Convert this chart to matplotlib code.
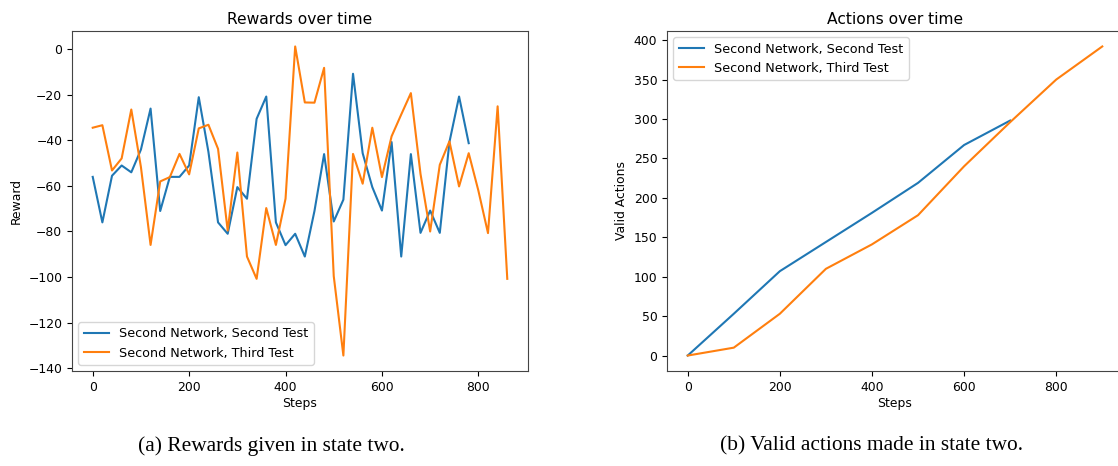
import matplotlib
matplotlib.use("Agg")
import matplotlib.pyplot as plt

# ---- data: rewards (state two) ----
reward_steps_second = list(range(0, 781, 20))
reward_second = [-56, -76, -55.5, -51, -54, -44, -26, -71, -56, -56,
                 -51, -21, -45, -76, -81, -60.5, -65.6, -30.5, -20.7, -76,
                 -86, -81, -91, -71, -46, -75.6, -66, -10.7, -45.6, -60.5,
                 -70.8, -40.7, -91, -46, -80.6, -70.8, -80.6, -40.7, -20.7, -41.2]
reward_steps_third = list(range(0, 861, 20))
reward_third = [-34.4, -33.3, -53.2, -47.9, -26.4, -51.7, -85.9, -58, -56.1, -45.9,
                -54.9, -34.7, -33.1, -43.7, -79.6, -45.3, -91, -100.8, -69.7, -85.9,
                -65.6, 1.3, -23.3, -23.4, -8.1, -99.6, -134.5, -45.9, -59, -34.4,
                -56.1, -38.2, -28.6, -19.2, -54.7, -80, -50.7, -40.4, -60.2, -45.6,
                -62, -80.7, -25, -100.8]

# ---- data: valid actions (state two) ----
action_steps_second = [0, 100, 200, 300, 400, 500, 600, 700]
actions_second = [0, 53, 107, 144, 181, 219, 267, 298]
action_steps_third = [0, 100, 200, 300, 400, 500, 600, 700, 800, 900]
actions_third = [0, 10, 53, 110, 141, 178, 240, 296, 350, 392]

series_labels = ["Second Network, Second Test", "Second Network, Third Test"]
titles = ["Rewards over time", "Actions over time"]
ylabels = ["Reward", "Valid Actions"]
xlabel = "Steps"
captions = ["(a) Rewards given in state two.", "(b) Valid actions made in state two."]

W, H = 1118, 466
fig = plt.figure(figsize=(W / 100, H / 100), dpi=100)

def box(l, t, r, b):
    return [l / W, 1 - b / H, (r - l) / W, (b - t) / H]

fs = 8.9
lfs = 9.2
blue, orange = "#1f77b4", "#ff7f0e"

ax1 = fig.add_axes(box(72, 31, 528, 371))
ax1.plot(reward_steps_second, reward_second, color=blue, lw=1.5, label=series_labels[0])
ax1.plot(reward_steps_third, reward_third, color=orange, lw=1.5, label=series_labels[1])
ax1.set_yticks(range(-140, 1, 20))
ax1.set_xticks([0, 200, 400, 600, 800])
ax1.set_title(titles[0], fontsize=11.2, pad=5)
ax1.set_ylabel(ylabels[0], fontsize=fs)
ax1.set_xlabel(xlabel, fontsize=fs, labelpad=2)
ax1.legend(loc="lower left", fontsize=lfs)

ax2 = fig.add_axes(box(667, 31, 1123, 371))
ax2.plot(action_steps_second, actions_second, color=blue, lw=1.5, label=series_labels[0])
ax2.plot(action_steps_third, actions_third, color=orange, lw=1.5, label=series_labels[1])
ax2.set_yticks(range(0, 401, 50))
ax2.set_xticks([0, 200, 400, 600, 800])
ax2.set_title(titles[1], fontsize=11.2, pad=5)
ax2.set_ylabel(ylabels[1], fontsize=fs)
ax2.set_xlabel(xlabel, fontsize=fs, labelpad=2)
ax2.legend(loc="upper left", fontsize=lfs)

for ax in (ax1, ax2):
    ax.tick_params(labelsize=fs, length=3.5)
    for s in ax.spines.values():
        s.set_color("#444444")

fig.text(271 / W, 1 - 446 / H, captions[0], ha="center", va="center",
         fontsize=15.4, family="Liberation Serif")
fig.text(872 / W, 1 - 446 / H, captions[1], ha="center", va="center",
         fontsize=15.4, family="Liberation Serif")

fig.savefig("out.png", dpi=100)
